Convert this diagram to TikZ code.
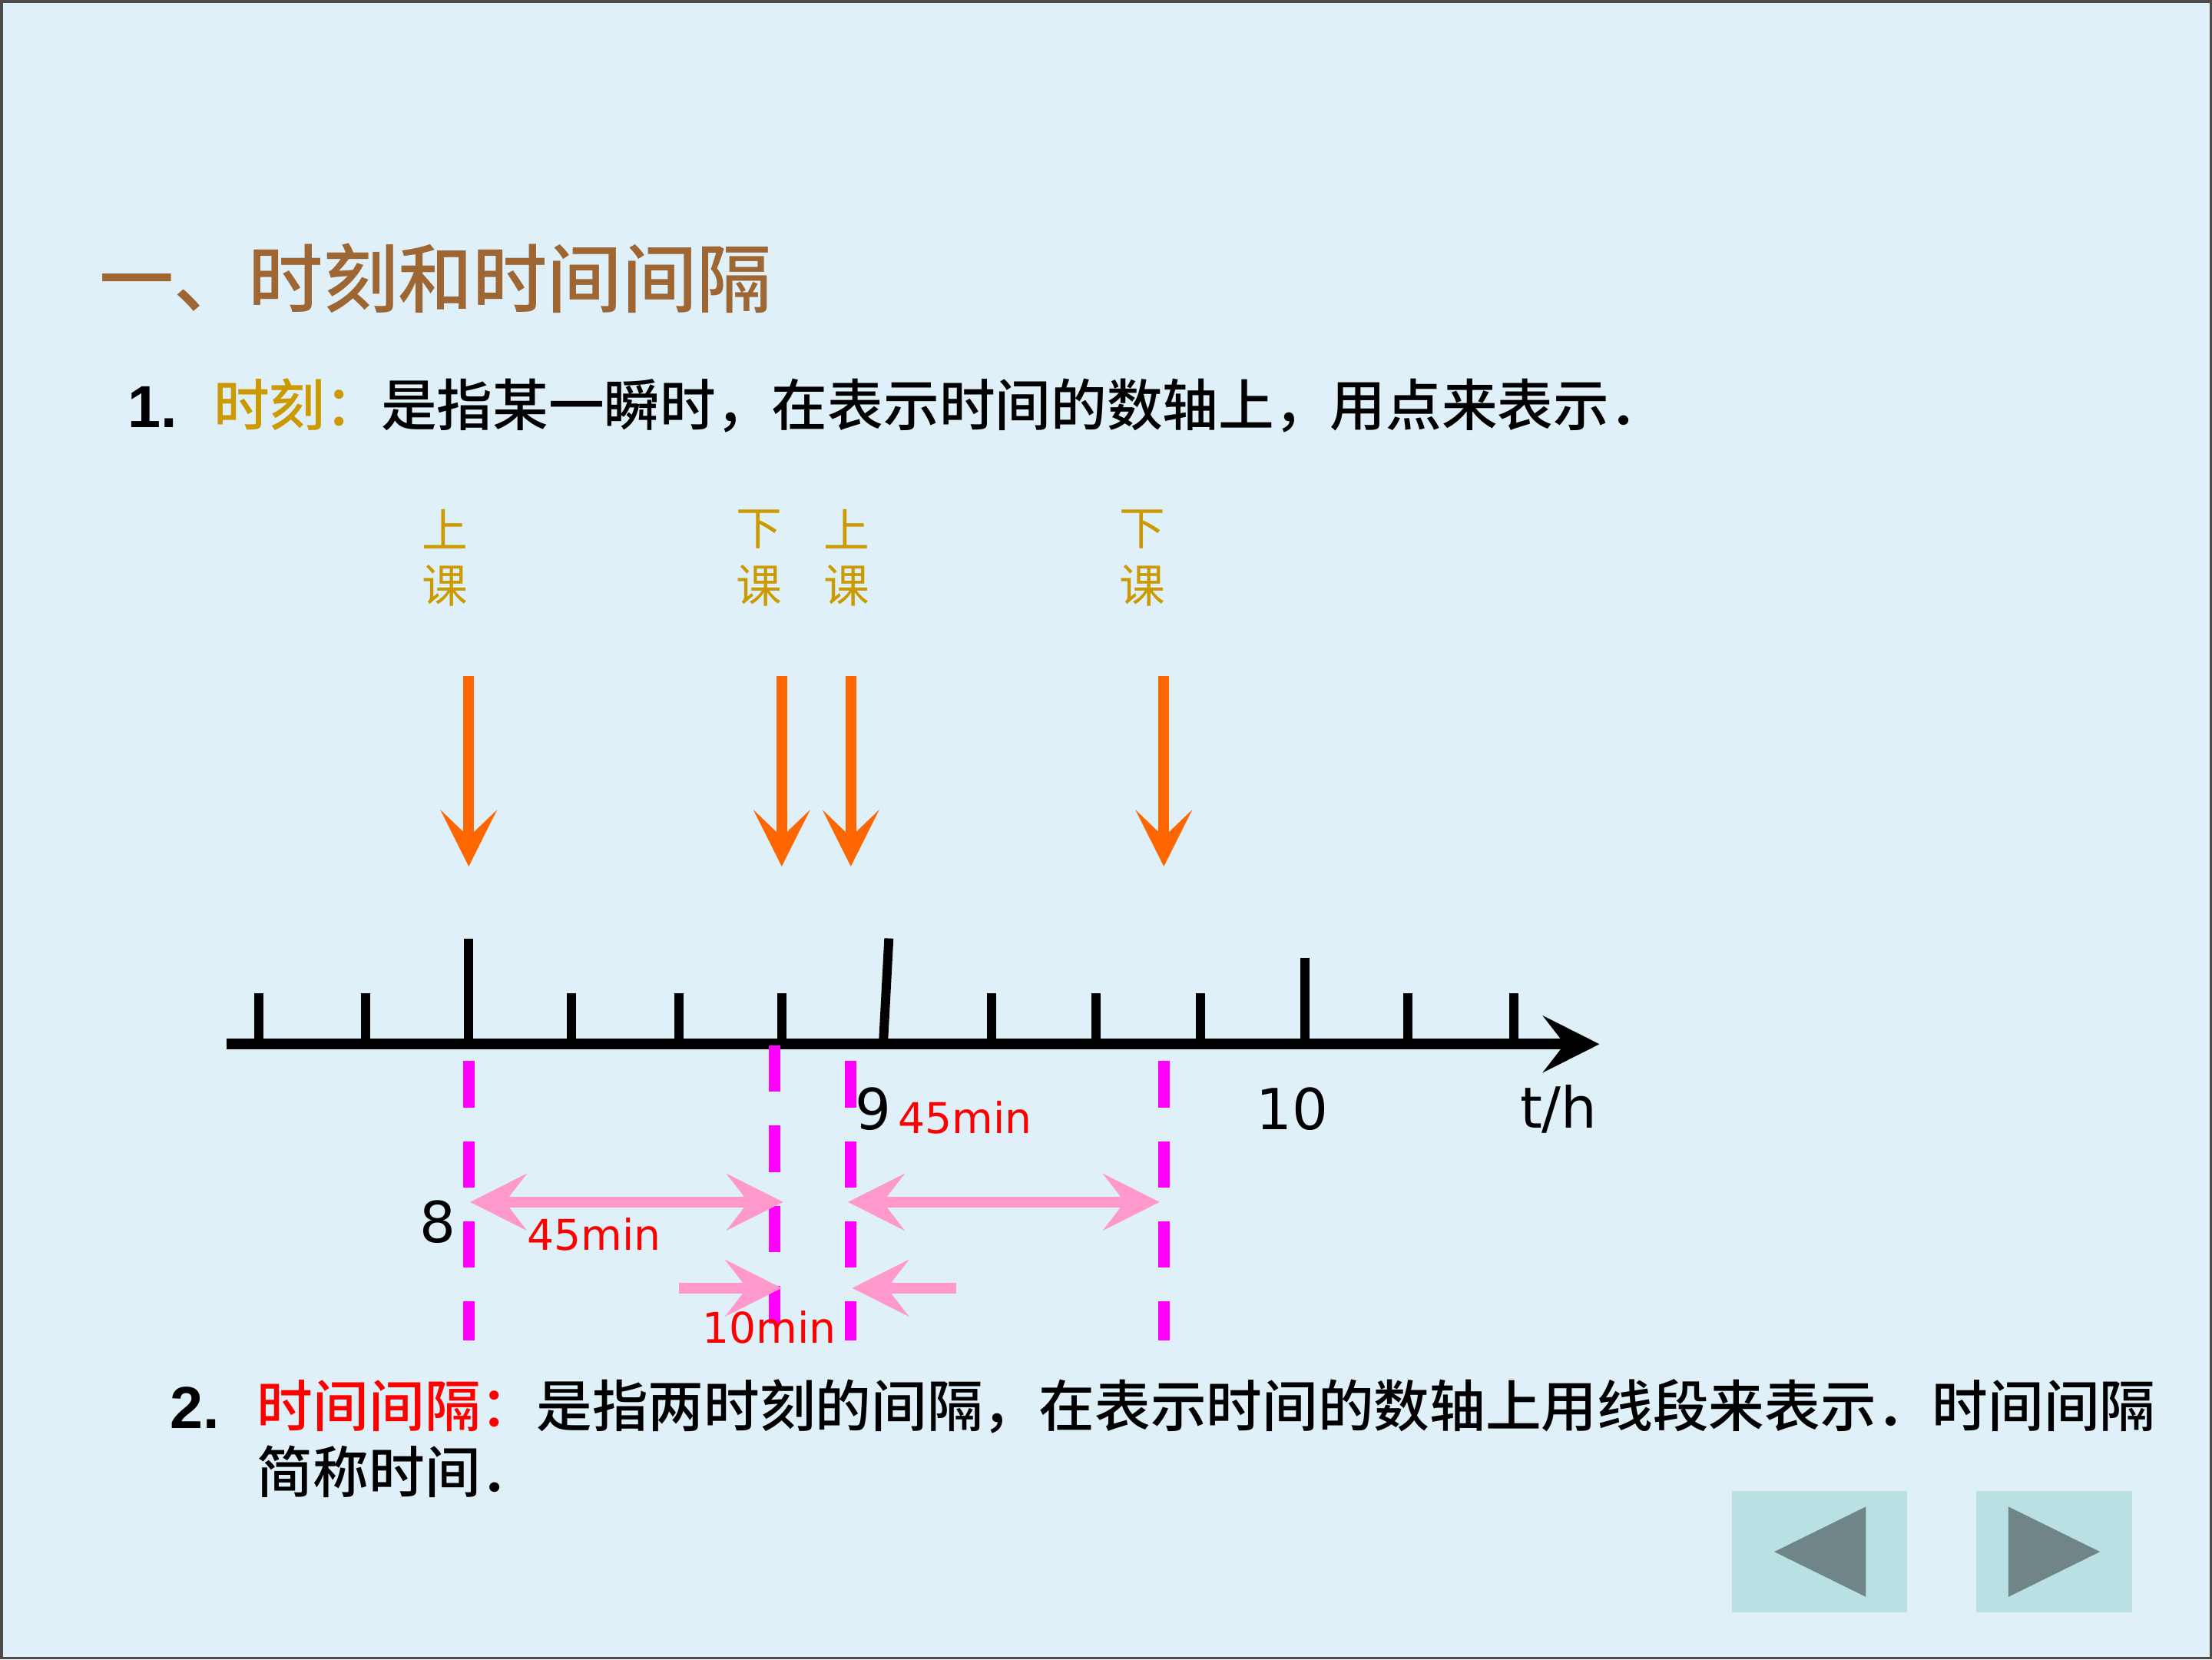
\documentclass[tikz,border=0pt]{standalone}
\usepackage{fontspec}
\usetikzlibrary{arrows.meta}
\newfontfamily\cjk{Noto Sans CJK SC}
\newfontfamily\cjkm{Noto Sans CJK SC Medium}
\newfontfamily\dv{DejaVu Sans}
\newfontfamily\ar{Liberation Sans}
\definecolor{bgc}{RGB}{223,240,249}
\definecolor{titlebrown}{RGB}{158,102,51}
\definecolor{goldc}{RGB}{204,153,0}
\definecolor{orangec}{RGB}{255,102,0}
\definecolor{magc}{RGB}{255,0,255}
\definecolor{pinkc}{RGB}{255,153,204}
\definecolor{btnfill}{RGB}{185,224,227}
\definecolor{btntri}{RGB}{111,133,135}
\definecolor{redc}{RGB}{255,0,0}
\begin{document}
\begin{tikzpicture}[x=0.018367cm,y=-0.018367cm,
  every node/.style={inner sep=0pt,outer sep=0pt},
  titletext/.style={font={\cjkm\fontsize{27.7pt}{30pt}\selectfont},text=titlebrown,anchor=west},
  bodytext/.style={font={\cjkm\fontsize{20.7pt}{24pt}\selectfont},anchor=west},
  numtext/.style={font={\ar\bfseries\fontsize{22pt}{24pt}\selectfont},anchor=west},
  classlabel/.style={font={\cjk\fontsize{17pt}{20pt}\selectfont},text=goldc},
  axislabel/.style={font={\dv\fontsize{21pt}{24pt}\selectfont}},
  minlabel/.style={font={\dv\fontsize{15.7pt}{18pt}\selectfont},text=redc},
  moment/.style={draw=orangec,line width=4pt,-{Stealth[length=20.9pt,width=20.9pt,inset=10pt]}},
  span/.style={draw=pinkc,line width=4pt,{Stealth[length=20.9pt,width=20.9pt,inset=8pt]}-{Stealth[length=20.9pt,width=20.9pt,inset=8pt]}},
  onespan/.style={draw=pinkc,line width=4pt,-{Stealth[length=20.9pt,width=20.9pt,inset=8pt]}},
  marker/.style={draw=magc,line width=4.2pt,dash pattern=on 17.2pt off 12.5pt},
  tick/.style={draw=black,line width=3.4pt},
  axisline/.style={draw=black,line width=4.1pt,-{Stealth[length=20.9pt,width=20.9pt,inset=8pt]}}
]
% background
\fill[bgc] (0,0) rectangle (1568,1176);
\draw[black!70,line width=1pt] (0.5,0.5) rectangle (1567.5,1175.5);
\useasboundingbox (0,0) rectangle (1568,1176);

% title
\node[titletext] (title) at (70,197) {一、时刻和时间间隔};

% line 1
\node[numtext] (n1) at (90,288) {1.};
\node[bodytext] (l1) at (151,287) {\textcolor{goldc}{时刻：}是指某一瞬时，在表示时间的数轴上，用点来表示．};

% class labels
\node[classlabel] (s1a) at (315,375) {上};
\node[classlabel] (s1b) at (315,415) {课};
\node[classlabel] (x1a) at (538,375) {下};
\node[classlabel] (x1b) at (538,415) {课};
\node[classlabel] (s2a) at (600,375) {上};
\node[classlabel] (s2b) at (600,415) {课};
\node[classlabel] (x2a) at (810,375) {下};
\node[classlabel] (x2b) at (810,415) {课};

% orange arrows
\coordinate (o1s) at (332,479); \coordinate (o1e) at (332,614);
\coordinate (o2s) at (554,479); \coordinate (o2e) at (554,614);
\coordinate (o3s) at (603,479); \coordinate (o3e) at (603,614);
\coordinate (o4s) at (825,479); \coordinate (o4e) at (825,614);
\draw[moment] (o1s) -- (o1e);
\draw[moment] (o2s) -- (o2e);
\draw[moment] (o3s) -- (o3e);
\draw[moment] (o4s) -- (o4e);

% ticks
\foreach \x in {183,259,405,481,554,703,777,851,998,1073}
  \draw[tick] (\x,740) -- (\x,704);
\draw[tick] (332,740) -- (332,665);
\draw[tick] (626,740) -- (630,665);
\draw[tick] (925,740) -- (925,679);

% axis
\coordinate (ax0) at (160,740);
\coordinate (ax1) at (1134,740);
\draw[axisline] (ax0) -- (ax1);

% magenta dashed markers
\coordinate (m1t) at (332,752); \coordinate (m1b) at (332,950);
\coordinate (m2t) at (549,741); \coordinate (m2b) at (549,938);
\coordinate (m3t) at (603,752); \coordinate (m3b) at (603,950);
\coordinate (m4t) at (825,752); \coordinate (m4b) at (825,950);
\draw[marker] (m1t) -- (m1b);
\draw[marker] (m2t) -- (m2b);
\draw[marker] (m3t) -- (m3b);
\draw[marker] (m4t) -- (m4b);

% axis labels
\node[axislabel] (l8) at (310,866) {8};
\node[axislabel] (l9) at (619,786) {9};
\node[axislabel] (l10) at (916,786) {10};
\node[axislabel] (lth) at (1105,786) {t/h};

% pink spans
\coordinate (p1a) at (333,852); \coordinate (p1b) at (555,852);
\coordinate (p2a) at (601,852); \coordinate (p2b) at (822,852);
\coordinate (p3a) at (481,913); \coordinate (p3b) at (554,913);
\coordinate (p4a) at (678,913); \coordinate (p4b) at (604,913);
\draw[span] (p1a) -- (p1b);
\draw[span] (p2a) -- (p2b);
\draw[onespan] (p3a) -- (p3b);
\draw[onespan] (p4a) -- (p4b);

% minute labels
\node[minlabel] (t45a) at (421,875) {45min};
\node[minlabel] (t45b) at (684,792) {45min};
\node[minlabel] (t10) at (545,941) {10min};

% line 2
\node[numtext] (n2) at (120,998) {2.};
\node[bodytext] (l2) at (182,997) {\textcolor{redc}{时间间隔：}是指两时刻的间隔，在表示时间的数轴上用线段来表示．时间间隔};
\node[bodytext] (l2b) at (182,1043) {简称时间．};

% navigation buttons
\fill[btnfill] (1228,1057) rectangle (1352,1143);
\fill[btnfill] (1401,1057) rectangle (1512,1143);
\fill[btntri] (1258,1100) -- (1323,1068) -- (1323,1132) -- cycle;
\fill[btntri] (1489,1100) -- (1424,1068) -- (1424,1132) -- cycle;
\end{tikzpicture}
\end{document}
